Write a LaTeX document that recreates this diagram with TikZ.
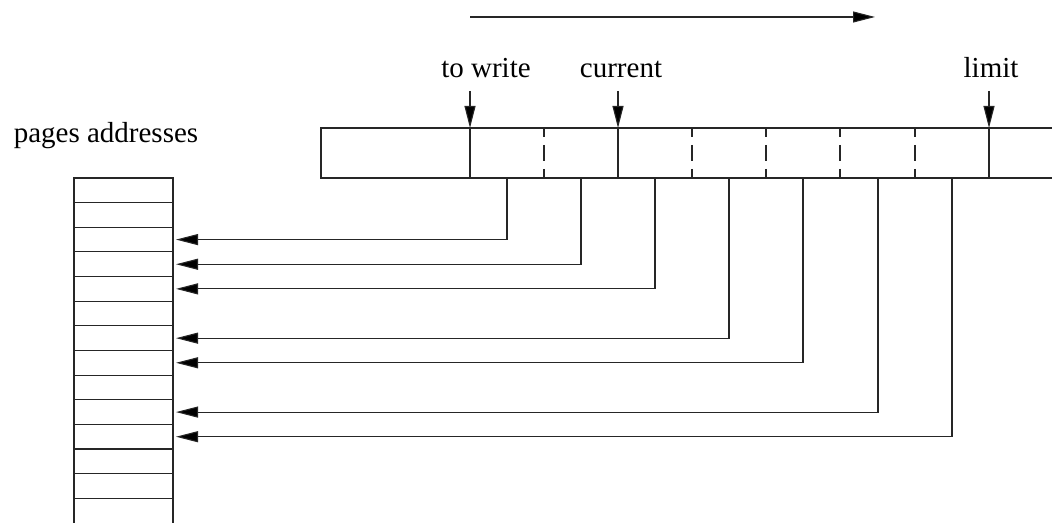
\documentclass[tikz,border=0pt]{standalone}
\usepackage{fontspec}
\setmainfont{Liberation Serif}
\usetikzlibrary{arrows.meta, positioning}
\tikzset{
  wire/.style = {line width=0.55pt, black!85},
  ptr/.style = {wire, -{Triangle[length=11pt, width=5.5pt, fill=black]}},
  lbl/.style = {font=\fontsize{14.5}{16}\selectfont, inner sep=0pt, anchor=base},
  seam/.style = {wire, dash pattern=on 4.5pt off 4pt on 8pt off 4pt on 4.5pt}
}

\begin{document}
\begin{tikzpicture}[x=0.5pt, y=-0.5pt]
  \useasboundingbox (0,0) rectangle (1052,523);

  % Direction
  \coordinate (dirA) at (470,17);
  \coordinate (dirB) at (875,17);
  \draw[ptr] (dirA) -- (dirB);

  % Buffer
  \draw[wire] (1052,128) -- (321,128) -- (321,178) -- (1052,178);
  \foreach \x in {470,618,989}
    \draw[wire] (\x,128) -- (\x,178);
  \foreach \x in {544,692,766,840,915}
    \draw[seam] (\x,128) -- (\x,178);

  % Markers
  \node[lbl] (towrite) at (486,78) {to write};
  \node[lbl] (current) at (621,78) {current};
  \node[lbl] (limit) at (991,78) {limit};
  \foreach \name/\x in {tw/470, cu/618, li/989} {
    \coordinate (\name top) at (\x,91);
    \coordinate (\name bot) at (\x,128);
    \draw[ptr] (\name top) -- (\name bot);
  }

  % Pages addresses
  \node[lbl] (pages) at (106,143) {pages addresses};
  \draw[wire] (74,523) -- (74,178) -- (173,178) -- (173,523);
  \foreach \i in {1,...,13}
    \draw[wire] (74,178+24.64*\i) -- (173,178+24.64*\i);

  % Pointers from cells to pages
  \foreach \x/\r in {507/2, 581/3, 655/4, 729/6, 803/7, 878/9, 952/10} {
    \coordinate (cell\r) at (\x,178);
    \coordinate (page\r) at (176,178+24.64*\r+12.32);
    \draw[ptr] (cell\r) |- (page\r);
  }

\end{tikzpicture}
\end{document}
